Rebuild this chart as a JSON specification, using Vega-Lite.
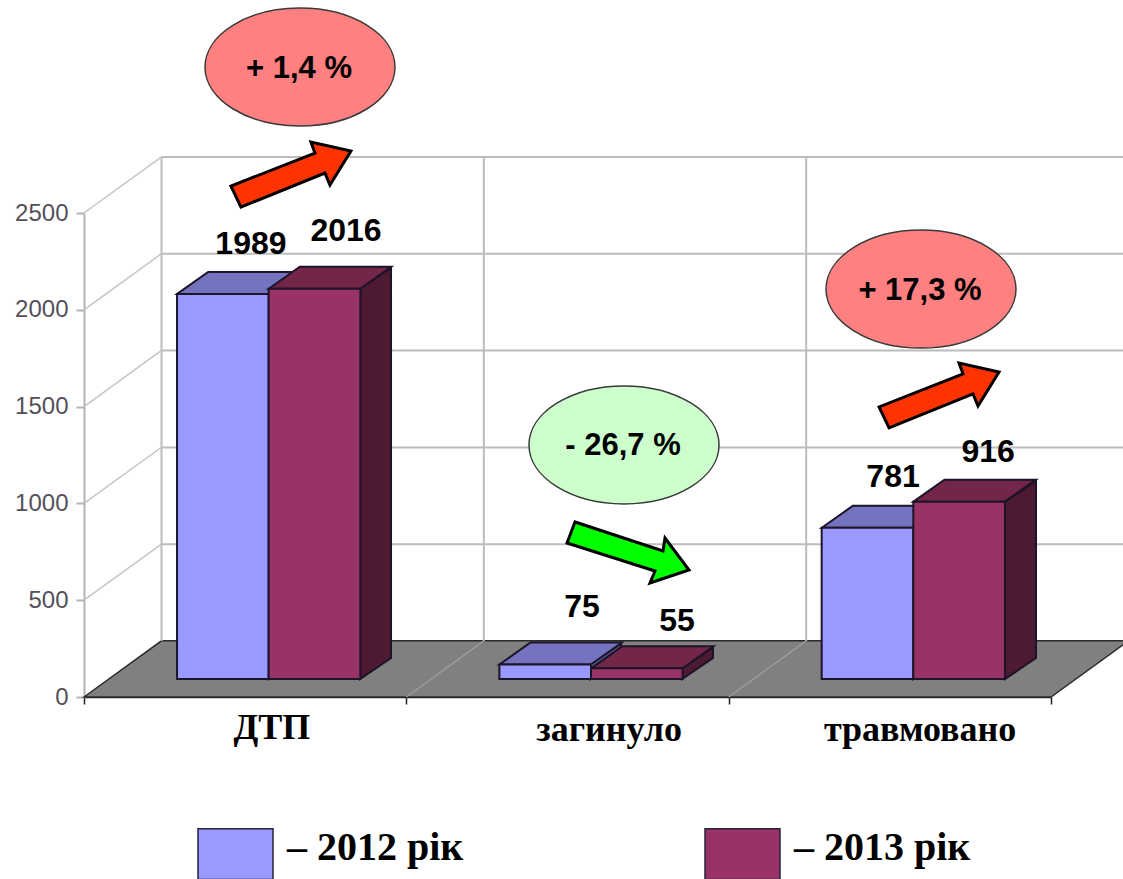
{
"$schema":"https://vega.github.io/schema/vega-lite/v6.json",
"width":967,"height":484,"autosize":"none",
"padding":{"left":84,"top":213,"right":72,"bottom":182},
"background":"white",
"config":{"view":{"stroke":null},"font":"Liberation Sans"},
"datasets":{
"bars":[
{"category":"ДТП","year":"2012","value":1989},
{"category":"ДТП","year":"2013","value":2016},
{"category":"загинуло","year":"2012","value":75},
{"category":"загинуло","year":"2013","value":55},
{"category":"травмовано","year":"2012","value":781},
{"category":"травмовано","year":"2013","value":916}],
"sides":[
{"bar":"ДТП 2012","year":"2012","at":0.5708,"top":1989,"base":0},{"bar":"ДТП 2012","year":"2012","at":0.667,"top":2097,"base":108},
{"bar":"ДТП 2013","year":"2013","at":0.8563,"top":2016,"base":0},{"bar":"ДТП 2013","year":"2013","at":0.9525,"top":2124,"base":108},
{"bar":"загинуло 2012","year":"2012","at":1.5698,"top":75,"base":0},{"bar":"загинуло 2012","year":"2012","at":1.666,"top":183,"base":108},
{"bar":"загинуло 2013","year":"2013","at":1.8553,"top":55,"base":0},{"bar":"загинуло 2013","year":"2013","at":1.9515,"top":163,"base":108},
{"bar":"травмовано 2012","year":"2012","at":2.5719,"top":781,"base":0},{"bar":"травмовано 2012","year":"2012","at":2.6681,"top":889,"base":108},
{"bar":"травмовано 2013","year":"2013","at":2.8573,"top":916,"base":0},{"bar":"травмовано 2013","year":"2013","at":2.9535,"top":1024,"base":108}],
"floor":[{"at":0,"top":0,"base":0},{"at":0.2404,"top":290,"base":0},{"at":3,"top":290,"base":0},{"at":3.2404,"top":290,"base":290}],
"levels":[{"level":500},{"level":1000},{"level":1500},{"level":2000},{"level":2500}],
"columns":[{"at":0},{"at":1},{"at":2},{"at":3}],
"wall":[
{"line":"w500","at":0,"level":500},{"line":"w500","at":0.2404,"level":790},
{"line":"w1000","at":0,"level":1000},{"line":"w1000","at":0.2404,"level":1290},
{"line":"w1500","at":0,"level":1500},{"line":"w1500","at":0.2404,"level":1790},
{"line":"w2000","at":0,"level":2000},{"line":"w2000","at":0.2404,"level":2290},
{"line":"w2500","at":0,"level":2500},{"line":"w2500","at":0.2404,"level":2790}],
"floorLines":[
{"line":"f1","at":1,"level":0},{"line":"f1","at":1.2404,"level":290},
{"line":"f2","at":2,"level":0},{"line":"f2","at":2.2404,"level":290}],
"valueLabels":[
{"value":1989,"at":0.518,"level":2340},{"value":2016,"at":0.813,"level":2407},
{"value":75,"at":1.545,"level":465},{"value":55,"at":1.84,"level":393},
{"value":781,"at":2.51,"level":1136},{"value":916,"at":2.805,"level":1265}],
"categoryLabels":[
{"category":"ДТП","at":0.583,"level":-160},{"category":"загинуло","at":1.629,"level":-170},{"category":"травмовано","at":2.594,"level":-170}],
"callouts":[
{"label":"+ 1,4 %","trend":"up","at":0.6701,"level":3254},
{"label":"- 26,7 %","trend":"down","at":1.6753,"level":1302},
{"label":"+ 17,3 %","trend":"up","at":2.5967,"level":2107}],
"arrows":[
{"trend":"up","at":0.642,"level":2696},
{"trend":"down","at":1.6877,"level":749},
{"trend":"up","at":2.6526,"level":1555}]
},
"resolve":{"scale":{"x":"independent"}},
"layer":[
{"data":{"name":"floor"},"mark":{"type":"area","fill":"#808080","stroke":"#2a2a2a","strokeWidth":1.5},
 "encoding":{
  "x":{"field":"at","type":"quantitative","scale":{"domain":[0,3],"nice":false},"axis":{"values":[0,1,2,3],"labels":false,"title":null,"grid":false,"tickSize":7,"tickColor":"#222222","tickWidth":1.5,"domainColor":"#222222","domainWidth":1.5}},
  "y":{"field":"top","type":"quantitative","scale":{"domain":[0,2500],"nice":false},"axis":{"values":[0,500,1000,1500,2000,2500],"format":"d","title":null,"grid":false,"tickSize":8,"tickColor":"#b4b4b4","tickWidth":2,"domainColor":"#b4b4b4","domainWidth":2,"labelFont":"Liberation Sans","labelFontSize":24,"labelColor":"#54505a","labelPadding":8}},
  "y2":{"field":"base"}}},
{"data":{"name":"levels"},"mark":{"type":"rule","stroke":"#bcbcbc","strokeWidth":2,"xOffset":77.5,"x2Offset":77.5,"yOffset":-56},
 "encoding":{"x":{"datum":0,"type":"quantitative","scale":{"domain":[0,3],"nice":false},"axis":null},"x2":{"datum":3},"y":{"field":"level","type":"quantitative"}}},
{"data":{"name":"columns"},"mark":{"type":"rule","stroke":"#bcbcbc","strokeWidth":2,"xOffset":77.5,"yOffset":-56,"y2Offset":-56},
 "encoding":{"x":{"field":"at","type":"quantitative","scale":{"domain":[0,3],"nice":false},"axis":null},"y":{"datum":0,"type":"quantitative"},"y2":{"datum":2500}}},
{"data":{"name":"wall"},"mark":{"type":"line","stroke":"#c4c4c4","strokeWidth":1.5},
 "encoding":{"x":{"field":"at","type":"quantitative","scale":{"domain":[0,3],"nice":false},"axis":null},"y":{"field":"level","type":"quantitative"},"detail":{"field":"line"}}},
{"data":{"name":"floorLines"},"mark":{"type":"line","stroke":"#9c9c9c","strokeWidth":1.5},
 "encoding":{"x":{"field":"at","type":"quantitative","scale":{"domain":[0,3],"nice":false},"axis":null},"y":{"field":"level","type":"quantitative"},"detail":{"field":"line"}}},
{"data":{"name":"sides"},"mark":{"type":"area","stroke":"#1c1428","strokeWidth":2,"yOffset":-18,"y2Offset":-18},
 "encoding":{"x":{"field":"at","type":"quantitative","scale":{"domain":[0,3],"nice":false},"axis":null},"y":{"field":"top","type":"quantitative"},"y2":{"field":"base"},"detail":{"field":"bar"},
  "fill":{"condition":{"test":"datum.year==='2012'","value":"#5c5c99"},"value":"#4d1933"}}},
{"data":{"name":"bars"},"mark":{"type":"point","shape":"M-45.7,0L-14.7,-22L76.7,-22L45.7,0Z","size":4,"filled":true,"opacity":1,"stroke":"#1c1428","strokeWidth":2,"yOffset":-18},
 "encoding":{"x":{"field":"category","type":"nominal","sort":null,"scale":{"domain":["ДТП","загинуло","травмовано"],"range":[23.5,990.5],"paddingInner":0.4313,"paddingOuter":0.2157},"axis":null},
  "xOffset":{"field":"year","type":"nominal"},
  "y":{"field":"value","type":"quantitative"},
  "fill":{"condition":{"test":"datum.year==='2012'","value":"#7373bf"},"value":"#732649"}}},
{"data":{"name":"bars"},"mark":{"type":"bar","stroke":"#1c1428","strokeWidth":2,"yOffset":-18,"y2Offset":-18},
 "encoding":{"x":{"field":"category","type":"nominal","sort":null,"scale":{"domain":["ДТП","загинуло","травмовано"],"range":[23.5,990.5],"paddingInner":0.4313,"paddingOuter":0.2157},"axis":null},
  "xOffset":{"field":"year","type":"nominal"},
  "y":{"field":"value","type":"quantitative"},"y2":{"datum":0},
  "fill":{"field":"year","type":"nominal","scale":{"domain":["2012","2013"],"range":["#9999ff","#993366"]},
   "legend":{"orient":"none","legendX":113,"legendY":597,"direction":"horizontal","title":null,"columns":2,"padding":0,"offset":0,
    "symbolType":"M-1,-0.5V0.85H1V-0.5Z","symbolSize":5625,"symbolStrokeColor":"#23233a","symbolStrokeWidth":1.5,"symbolOpacity":1,
    "labelExpr":"'– ' + datum.label + ' рік'","labelFont":"Liberation Serif","labelFontWeight":"bold","labelFontSize":40,"labelColor":"#000000","labelOffset":13,"labelLimit":400,"columnPadding":240,"clipHeight":75}}}},
{"data":{"name":"valueLabels"},"mark":{"type":"text","font":"Liberation Sans","fontWeight":"bold","fontSize":32,"fill":"#000000","baseline":"middle"},
 "encoding":{"x":{"field":"at","type":"quantitative","scale":{"domain":[0,3],"nice":false},"axis":null},"y":{"field":"level","type":"quantitative"},"text":{"field":"value","type":"quantitative"}}},
{"data":{"name":"categoryLabels"},"mark":{"type":"text","font":"Liberation Serif","fontWeight":"bold","fontSize":36,"fill":"#000000","baseline":"middle"},
 "encoding":{"x":{"field":"at","type":"quantitative","scale":{"domain":[0,3],"nice":false},"axis":null},"y":{"field":"level","type":"quantitative"},"text":{"field":"category","type":"nominal"}}},
{"data":{"name":"callouts"},"mark":{"type":"point","shape":"M-95,0A95,59 0 1,1 95,0A95,59 0 1,1 -95,0Z","size":4,"filled":true,"opacity":1,"stroke":"#3a3a3a","strokeWidth":1.5},
 "encoding":{"x":{"field":"at","type":"quantitative","scale":{"domain":[0,3],"nice":false},"axis":null},"y":{"field":"level","type":"quantitative"},
  "fill":{"condition":{"test":"datum.trend==='up'","value":"#ff8080"},"value":"#ccffcc"}}},
{"data":{"name":"arrows"},"mark":{"type":"point","size":4,"filled":true,"opacity":1,"stroke":"#000000","strokeWidth":3,"strokeJoin":"miter"},
 "encoding":{"x":{"field":"at","type":"quantitative","scale":{"domain":[0,3],"nice":false},"axis":null},"y":{"field":"level","type":"quantitative"},
  "shape":{"field":"trend","type":"nominal","scale":{"domain":["up","down"],"range":["M-60,11L-50,32L34,-2L39,10L60,-24L20,-33L24,-22Z","M-53,-30L-61,-9L27,19L22,31L61,18L37,-14L35,-1Z"]},"legend":null},
  "fill":{"condition":{"test":"datum.trend==='up'","value":"#ff3300"},"value":"#00ff00"}}},
{"data":{"name":"callouts"},"mark":{"type":"text","font":"Liberation Sans","fontWeight":"bold","fontSize":31,"fill":"#000000","baseline":"middle","yOffset":1.5,"xOffset":-1},
 "encoding":{"x":{"field":"at","type":"quantitative","scale":{"domain":[0,3],"nice":false},"axis":null},"y":{"field":"level","type":"quantitative"},"text":{"field":"label","type":"nominal"}}}
]
}
